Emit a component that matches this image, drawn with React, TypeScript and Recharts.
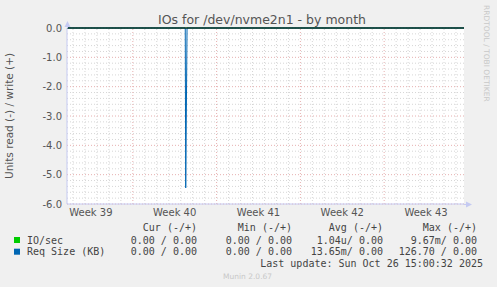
import React from "react";
import { LineChart, Line, XAxis, YAxis, ReferenceLine } from "recharts";

// days since start of the graph window
const days = [0, 9.88, 9.92, 10.03, 33.17];
const ioRead = [0, 0, 0, 0, 0];
const reqRead = [0, 0, -5.45, 0, 0];

const weekTicks = [2, 9, 16, 23, 30];
const weekLabels = ["Week 39", "Week 40", "Week 41", "Week 42", "Week 43"];
const weekStarts = [5.5, 12.5, 19.5, 26.5];
const yTicks = [0, -1, -2, -3, -4, -5, -6];

const dayLines: number[] = [];
for (let d = 0.5; d < 33.17; d += 1) {
    if (!weekStarts.includes(d)) dayLines.push(d);
}
const minorY: number[] = [];
for (let i = 1; i < 30; i++) {
    if (i % 5 !== 0) minorY.push(-i * 0.2);
}

const legendRows = [
    { name: "IO/sec", color: "#00cc00", cur: "0.00 / 0.00", min: "0.00 / 0.00", avg: "1.04u/ 0.00", max: "9.67m/ 0.00" },
    { name: "Req Size (KB)", color: "#0066b3", cur: "0.00 / 0.00", min: "0.00 / 0.00", avg: "13.65m/ 0.00", max: "126.70 / 0.00" },
];

const data = days.map((d, i) => ({ d, io: ioRead[i], req: reqRead[i] }));

const AXIS = "#c5caf2";
const mono = "'DejaVu Sans Mono', monospace";
const sans = "'DejaVu Sans', sans-serif";

export default function App() {
    return (
        <div style={{ position: "absolute", left: 0, top: 0, width: 497, height: 287, background: "#f0f0f0" }}>
            <div style={{ position: "absolute", left: 67, top: 28, width: 397, height: 176, background: "#ffffff" }} />
            <LineChart width={497} height={287} data={data} margin={{ top: 28, right: 33, bottom: 63, left: 0 }}>
                {dayLines.map((d) => (
                    <ReferenceLine key={"dx" + d} x={d} stroke="#d6d6d6" strokeDasharray="1 2" />
                ))}
                {minorY.map((v) => (
                    <ReferenceLine key={"my" + v} y={v} stroke="#d6d6d6" strokeDasharray="1 2" />
                ))}
                {weekStarts.map((d) => (
                    <ReferenceLine key={"wx" + d} x={d} stroke="#e6b0b0" strokeDasharray="1 2" />
                ))}
                {yTicks.map((v) => (
                    <ReferenceLine key={"my" + v} y={v} stroke="#e6b0b0" strokeDasharray="1 2" />
                ))}
                <XAxis
                    dataKey="d"
                    type="number"
                    domain={[0, 33.17]}
                    ticks={weekTicks}
                    tickFormatter={(v, i) => weekLabels[i]}
                    tickLine={false}
                    tickSize={3}
                    tickMargin={2}
                    height={20}
                    axisLine={{ stroke: AXIS }}
                    tick={{ fill: "#555", fontSize: 10, fontFamily: sans }}
                />
                <YAxis
                    type="number"
                    domain={[-6, 0]}
                    ticks={yTicks}
                    tickFormatter={(v) => Number(v).toFixed(1)}
                    width={67}
                    tickLine={false}
                    tickSize={3}
                    tickMargin={2}
                    axisLine={{ stroke: AXIS }}
                    tick={{ fill: "#555", fontSize: 10, fontFamily: sans }}
                />
                <Line dataKey="io" stroke="#00cc00" strokeWidth={1} dot={false} isAnimationActive={false} />
                <Line dataKey="req" type="linear" stroke="#0066b3" strokeWidth={1} dot={false} isAnimationActive={false} />
                <ReferenceLine y={0} stroke="#000" strokeWidth={1} />
            </LineChart>
            <svg width={497} height={287} style={{ position: "absolute", left: 0, top: 0, pointerEvents: "none" }}>
                <line x1={67.5} y1={28} x2={67.5} y2={23} stroke={AXIS} />
                <polygon points="64.5,27 70.5,27 67.5,21" fill={AXIS} />
                <line x1={464} y1={204.5} x2={468} y2={204.5} stroke={AXIS} />
                <polygon points="466,201.5 466,207.5 472,204.5" fill={AXIS} />
                <text x={262} y={24} textAnchor="middle" fontFamily={sans} fontSize={12.5} fill="#555">
                    IOs for /dev/nvme2n1 - by month
                </text>
                <text
                    transform="translate(13,116) rotate(-90)"
                    textAnchor="middle"
                    fontFamily={sans}
                    fontSize={10.5}
                    fill="#555"
                >
                    Units read (-) / write (+)
                </text>
                <text
                    transform="translate(484,5) rotate(90)"
                    fontFamily={sans}
                    fontSize={7.5}
                    fill="#c8c8c8"
                >
                    RRDTOOL / TOBI OETIKER
                </text>
                <g fontFamily={mono} fontSize={10} fill="#444">
                    <text x={197} y={231} textAnchor="end">Cur (-/+)</text>
                    <text x={292} y={231} textAnchor="end">Min (-/+)</text>
                    <text x={383} y={231} textAnchor="end">Avg (-/+)</text>
                    <text x={477} y={231} textAnchor="end">Max (-/+)</text>
                    {legendRows.map((r, i) => (
                        <g key={r.name}>
                            <rect x={14} y={237 + i * 11.7} width={6} height={6} fill={r.color} />
                            <text x={27} y={243.5 + i * 11.7}>{r.name}</text>
                            <text x={197} y={243.5 + i * 11.7} textAnchor="end">{r.cur}</text>
                            <text x={292} y={243.5 + i * 11.7} textAnchor="end">{r.min}</text>
                            <text x={383} y={243.5 + i * 11.7} textAnchor="end">{r.avg}</text>
                            <text x={477} y={243.5 + i * 11.7} textAnchor="end">{r.max}</text>
                        </g>
                    ))}
                    <text x={483} y={266.5} textAnchor="end">Last update: Sun Oct 26 15:00:32 2025</text>
                </g>
                <text x={223} y={279} fontFamily={sans} fontSize={7.5} fill="#c8c8c8">Munin 2.0.67</text>
            </svg>
        </div>
    );
}
